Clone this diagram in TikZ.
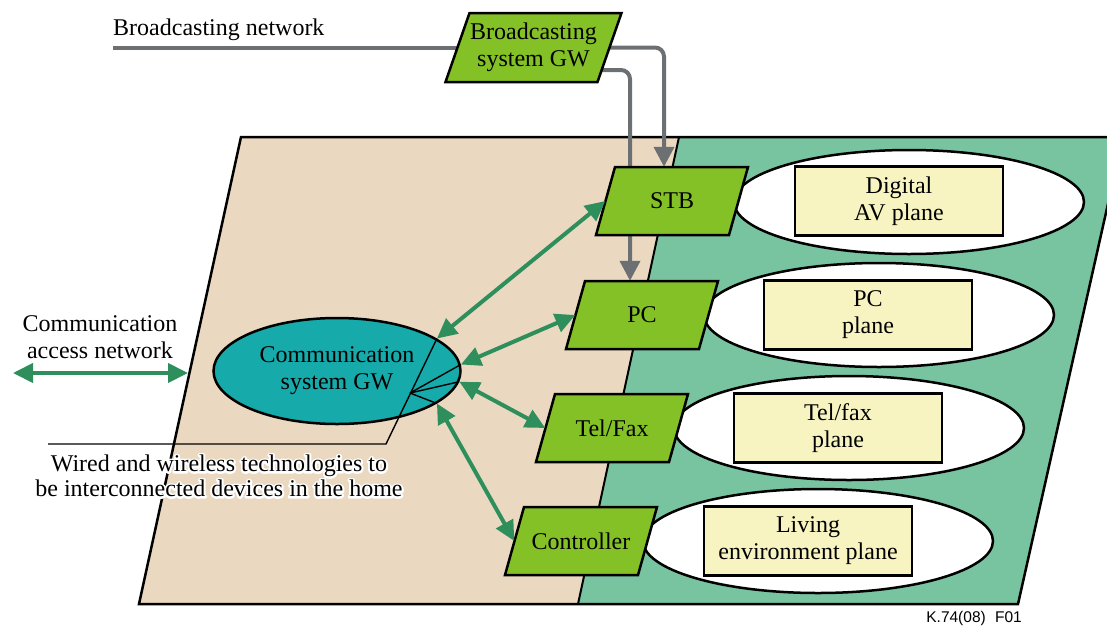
\documentclass[tikz,border=0pt]{standalone}
\usepackage{fontspec}
\setmainfont{Liberation Serif}
\newfontfamily\footfont{Liberation Sans}
\usetikzlibrary{shapes.geometric,arrows.meta}
\definecolor{beige}{HTML}{EAD9C0}
\definecolor{bggreen}{HTML}{79C4A0}
\definecolor{devgreen}{HTML}{84C126}
\definecolor{gwteal}{HTML}{16AAAB}
\definecolor{arrgreen}{HTML}{2E8E5C}
\definecolor{boxyellow}{HTML}{F8F4C2}
\definecolor{arrgray}{HTML}{6D7073}
\pgfdeclarelayer{back}
\pgfdeclarelayer{mid}
\pgfsetlayers{back,mid,main}
% parallelogram node: name, cx, cy, total width, height, slant, text
\newcommand\plgram[7]{%
  \draw[plshape] (#2-#4/2,#3+#5/2) -- (#2-#4/2+#6,#3-#5/2) -- (#2+#4/2,#3-#5/2)
    -- (#2+#4/2-#6,#3+#5/2) -- cycle;
  \node[pltext, minimum width=#4-#6, minimum height=#5] (#1) at (#2,#3) {#7};}
\begin{document}
\begin{tikzpicture}[x=1pt,y=-1pt,
  txt/.style={font=\fontsize{24}{27}\selectfont, align=center, inner sep=0pt},
  plshape/.style={fill=devgreen, draw=black, line width=2.5, line join=miter},
  pltext/.style={rectangle, inner sep=0pt, align=center,
    font=\fontsize{24}{27}\selectfont},
  gwst/.style={ellipse, minimum width=247, minimum height=106, fill=gwteal,
    draw=black, line width=2.5, inner sep=0pt, align=center,
    font=\fontsize{24}{27}\selectfont},
  plane/.style={ellipse, minimum width=350, minimum height=104, fill=white,
    draw=black, line width=2.5, inner sep=0pt},
  pbox/.style={rectangle, minimum width=208, minimum height=69, fill=boxyellow,
    draw=black, line width=2.5, inner sep=0pt, align=center,
    font=\fontsize{24}{27}\selectfont},
  gline/.style={draw=arrgray, line width=4},
  garr/.style={draw=arrgray, line width=4, rounded corners=9,
    -{Triangle[length=20pt,width=20pt]}},
  greenarr/.style={draw=arrgreen, line width=4,
    {Triangle[length=20pt,width=19pt]}-{Triangle[length=20pt,width=19pt]}},
  thinline/.style={draw=black, line width=1.4}
]
\useasboundingbox (0,0) rectangle (1107,627);
\begin{pgfonlayer}{back}
  \clip (0,0) rectangle (1107,627);
  \fill[beige] (241,137) -- (679,137) -- (578,604) -- (139,604) -- cycle;
  \fill[bggreen] (679,137) -- (1123,137) -- (1018,604) -- (578,604) -- cycle;
  \draw[line width=2.5, line join=miter] (241,137) -- (1123,137) -- (1018,604) -- (139,604) -- cycle;
  \draw[line width=2] (679,137) -- (578,604);
\end{pgfonlayer}

% planes
\node[plane] (e1) at (909,202) {};
\node[plane] (e2) at (879,315) {};
\node[plane] (e3) at (849,428) {};
\node[plane] (e4) at (818,541) {};
\node[pbox] (b1) at (899,201) {Digital\\AV plane};
\node[pbox] (b2) at (868,315) {PC\\plane};
\node[pbox] (b3) at (838,428) {Tel/fax\\plane};
\node[pbox] (b4) at (808,541) {Living\\environment plane};

% devices
\plgram{stb}{672}{201}{152}{68}{19}{STB}
\plgram{pc}{642}{315}{152}{68}{19}{PC}
\plgram{tel}{612}{428}{152}{68}{19}{Tel/Fax}
\plgram{ctl}{581}{541}{152}{68}{19}{Controller}
\plgram{bgw}{533.5}{47.5}{176}{69}{24}{Broadcasting\\system GW}

\node[gwst] (gw) at (337,371) {Communication\\system GW};

% labels
\node[txt, anchor=base west] (bnl) at (113,35) {Broadcasting network};
\node[txt] (can) at (100,337) {Communication\\access network};
\node[txt, anchor=south east] (foot) at (1022,626) {\footfont\fontsize{15.5}{17}\selectfont K.74(08)\hspace{0.6em}F01};

% gray connectors
\coordinate (bn) at (113,47.5);
\begin{pgfonlayer}{mid}
  \draw[gline] (bn) -- (bgw.west);
  \draw[garr] (bgw.east) -| ([xshift=-8]stb.north);
  \draw[garr] ([yshift=-22.5,xshift=-10]bgw.east) -| ([xshift=-12]pc.north);
\end{pgfonlayer}

% thin callout lines
\coordinate (w0) at (48,444);
\coordinate (w1) at (386,444);
\coordinate (hub) at (410,393);
\draw[thinline] (w0) -- (w1) -- (gw.18.8);
\draw[thinline] (hub) -- (gw.3.7);
\draw[thinline] (hub) -- (gw.-5.2);
\draw[thinline] (hub) -- (gw.-18.6);

% green connectors
\draw[greenarr] (gw.18.8) -- (stb.west);
\draw[greenarr] (gw.3.7) -- (pc.west);
\draw[greenarr] (gw.-5.2) -- (tel.west);
\draw[greenarr] (gw.-18.6) -- (ctl.west);
\coordinate (ca1) at (13,373);
\coordinate (ca2) at (188,373);
\draw[greenarr] (ca1) -- (ca2);

% wired text with white halo (stroked outline copy underneath)
\node[txt, text=white, font=\fontsize{24}{25}\selectfont] (wiredhalo) at (219,476)
  {\special{pdf:literal direct 1 Tr 4 w 1 1 1 RG 1 j}Wired and wireless technologies to\\be interconnected devices in the home\special{pdf:literal direct 0 Tr 0 0 0 RG}};
\node[txt, font=\fontsize{24}{25}\selectfont] (wired) at (219,476)
  {Wired and wireless technologies to\\be interconnected devices in the home};
\end{tikzpicture}
\end{document}
